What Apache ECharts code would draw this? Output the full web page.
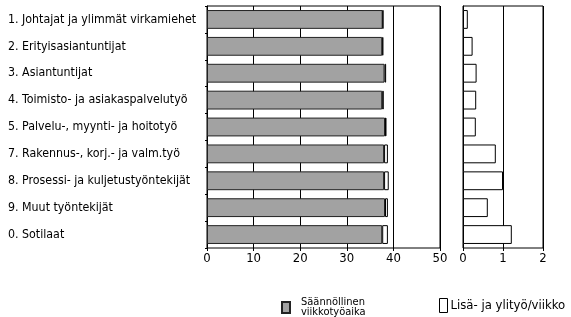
<!DOCTYPE html>
<html><head><meta charset="utf-8">
<script src="https://cdn.jsdelivr.net/npm/echarts@6/dist/echarts.min.js"></script>
<style>html,body{margin:0;padding:0;background:#fff}#c{width:571px;height:317px}</style>
</head><body><div id="c"></div>
<script>
var categories = ['1. Johtajat ja ylimmät virkamiehet', '2. Erityisasiantuntijat', '3. Asiantuntijat', '4. Toimisto- ja asiakaspalvelutyö', '5. Palvelu-, myynti- ja hoitotyö', '7. Rakennus-, korj.- ja valm.työ', '8. Prosessi- ja kuljetustyöntekijät', '9. Muut työntekijät', '0. Sotilaat'];
var regularHours = [37.7, 37.6, 38.1, 37.6, 38.2, 38.0, 38.0, 38.2, 37.6];
var overtimeHours = [0.12, 0.24, 0.34, 0.33, 0.32, 0.82, 1.0, 0.62, 1.22];
var leftTicks = [0, 10, 20, 30, 40, 50];
var rightTicks = [0, 1, 2];
var nameRegular = 'Säännöllinen\nviikkotyöaika';
var nameOver = 'Lisä- ja ylityö/viikko';

var FONT = "'DejaVu Sans Condensed', sans-serif";
var chart = echarts.init(document.getElementById('c'), null, {renderer: 'canvas'});
var axisLineStyle = {lineStyle: {color: '#000', width: 1}};
chart.setOption({
  animation: false,
  backgroundColor: '#fff',
  textStyle: {fontFamily: FONT, color: '#000'},
  grid: [
    {left: 207, width: 233, top: 6, height: 242, show: true, borderColor: '#000', borderWidth: 1},
    {left: 463, width: 80, top: 6, height: 242, show: true, borderColor: '#000', borderWidth: 1}
  ],
  xAxis: [
    {type: 'value', gridIndex: 0, min: leftTicks[0], max: leftTicks[leftTicks.length - 1], interval: 10,
     axisLine: axisLineStyle, axisTick: {show: true, length: 3, lineStyle: {color: '#000'}},
     splitLine: {show: true, lineStyle: {color: '#000', width: 1}},
     axisLabel: {fontSize: 13, color: '#000', margin: 4, fontFamily: FONT}},
    {type: 'value', gridIndex: 1, min: rightTicks[0], max: rightTicks[rightTicks.length - 1], interval: 1,
     axisLine: axisLineStyle, axisTick: {show: true, length: 3, lineStyle: {color: '#000'}},
     splitLine: {show: true, lineStyle: {color: '#000', width: 1}},
     axisLabel: {fontSize: 13, color: '#000', margin: 4, fontFamily: FONT}}
  ],
  yAxis: [
    {type: 'category', gridIndex: 0, data: categories, inverse: true,
     axisLine: axisLineStyle, axisTick: {show: true, length: 2, lineStyle: {color: '#000'}},
     axisLabel: {align: 'left', margin: 199, fontSize: 12.3, color: '#000', fontFamily: FONT}},
    {type: 'category', gridIndex: 1, data: categories, inverse: true,
     axisLine: axisLineStyle, axisTick: {show: false}, axisLabel: {show: false}}
  ],
  legend: [
    {left: 276, top: 292, itemWidth: 8, itemHeight: 11, icon: 'rect',
     data: [{name: nameRegular}],
     textStyle: {fontFamily: FONT, color: '#000', fontSize: 11, lineHeight: 10, padding: [0, 0, 0, 6]}},
    {left: 434, top: 293, itemWidth: 8, itemHeight: 14, icon: 'rect',
     data: [{name: nameOver, itemStyle: {color: '#fff', borderColor: '#000', borderWidth: 1}}],
     textStyle: {fontFamily: FONT, color: '#000', fontSize: 13, padding: [0, 0, 0, -2]}}
  ],
  series: [
    {name: nameRegular, type: 'bar', stack: 'a', xAxisIndex: 0, yAxisIndex: 0, data: regularHours, barWidth: '70%',
     itemStyle: {color: '#a2a2a2', borderColor: '#222', borderWidth: 1}},
    {name: nameOver, type: 'bar', stack: 'a', xAxisIndex: 0, yAxisIndex: 0, data: overtimeHours, barWidth: '70%',
     itemStyle: {color: '#fff', borderColor: '#000', borderWidth: 1}},
    {name: nameOver, type: 'bar', xAxisIndex: 1, yAxisIndex: 1, data: overtimeHours, barWidth: '70%',
     itemStyle: {color: '#fff', borderColor: '#000', borderWidth: 1}}
  ]
});
</script></body></html>
